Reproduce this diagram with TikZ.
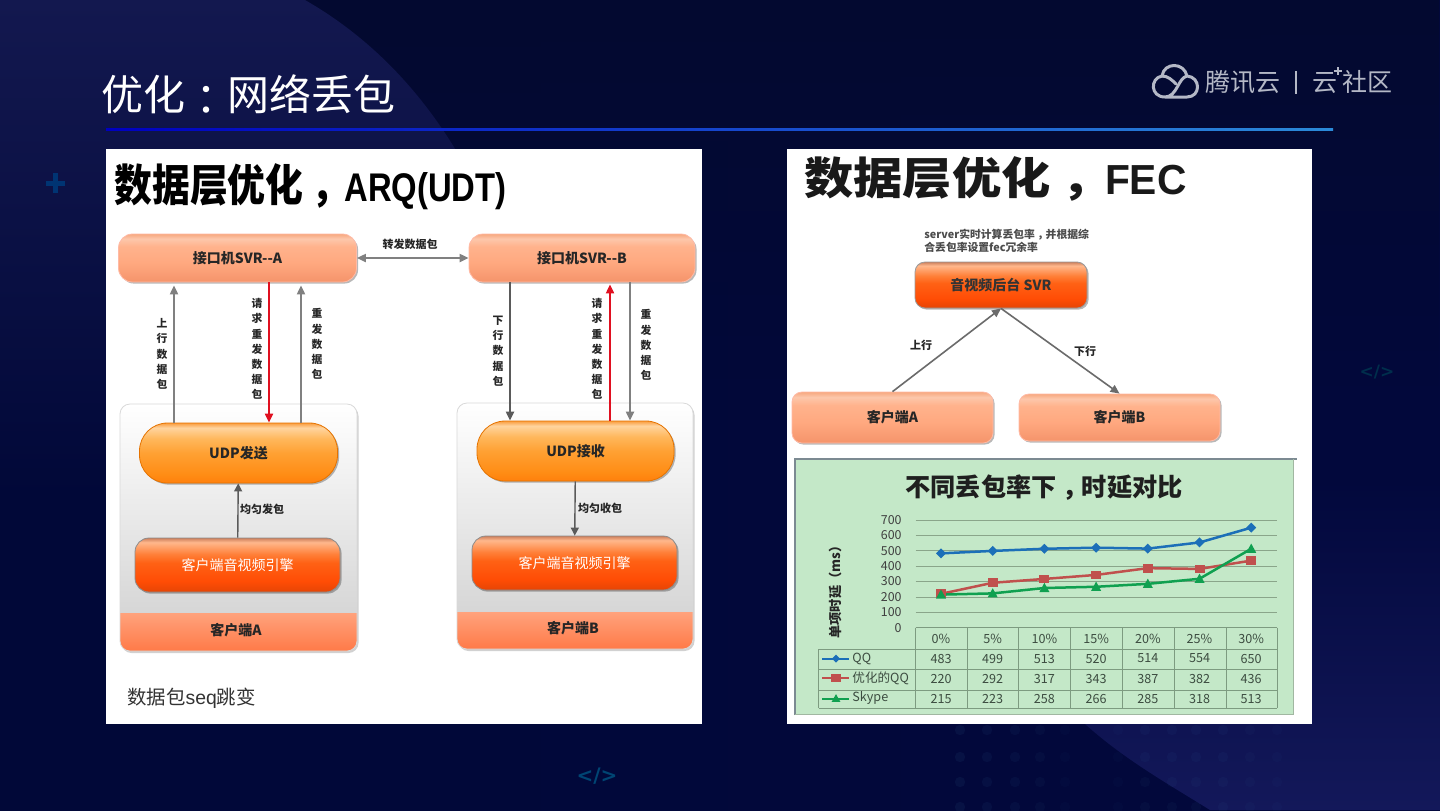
\documentclass[tikz,border=0pt]{standalone}
\usepackage{fontspec}
\usepackage{graphicx}
\setmainfont{Noto Sans CJK SC}
\newfontfamily\tcf{Noto Sans CJK TC}
\newfontfamily\lat{Liberation Sans}
\newfontfamily\djv{DejaVu Sans}
\newcommand\ccomma{\hspace{.22em}，\hspace{-.22em}}
\usetikzlibrary{arrows.meta,shadows,shapes.geometric,fadings}
\definecolor{bgtop}{HTML}{040A30}
\definecolor{bgl}{HTML}{010838}
\definecolor{bgm}{HTML}{021050}
\definecolor{bgr}{HTML}{02083C}
\definecolor{swoop}{HTML}{13184F}
\definecolor{swoopb}{HTML}{13185A}
\definecolor{logoc}{HTML}{B4B8C6}
\definecolor{chartg}{HTML}{C4E8C8}
\definecolor{gridc}{HTML}{8AA58A}
\definecolor{tabc}{HTML}{7D9B80}
\definecolor{tabtxt}{HTML}{3C4C40}
\definecolor{qqb}{HTML}{1C6FB8}
\definecolor{qqr}{HTML}{C0504D}
\definecolor{qqg}{HTML}{10A050}
\definecolor{arrg}{HTML}{808080}
\definecolor{arrd}{HTML}{5A5A5A}
\definecolor{arrr}{HTML}{E01020}
\definecolor{bandt}{HTML}{FFA27C}
\definecolor{bandb}{HTML}{FF7A48}
\pgfdeclareverticalshading{peachgloss}{100bp}{rgb(0bp)=(0.96,0.58,0.42);
  rgb(25bp)=(0.96,0.58,0.42); rgb(45bp)=(1,0.66,0.50); rgb(62bp)=(1,0.70,0.55); rgb(70bp)=(0.99,0.78,0.67); rgb(75bp)=(0.97,0.66,0.50); rgb(100bp)=(0.97,0.66,0.50)}
\pgfdeclareverticalshading{pillgloss}{100bp}{rgb(0bp)=(1,0.50,0.05);
  rgb(25bp)=(1,0.50,0.05); rgb(32bp)=(1,0.55,0.08); rgb(50bp)=(1,0.63,0.20); rgb(62bp)=(1,0.72,0.36); rgb(71bp)=(1,0.83,0.62); rgb(75bp)=(0.98,0.62,0.25); rgb(100bp)=(0.98,0.62,0.25)}
\pgfdeclareverticalshading{deepgloss}{100bp}{rgb(0bp)=(0.90,0.27,0.02);
  rgb(25bp)=(0.90,0.27,0.02); rgb(35bp)=(1,0.30,0.02); rgb(52bp)=(1,0.38,0.08); rgb(60bp)=(1,0.50,0.22); rgb(71bp)=(1,0.72,0.55); rgb(75bp)=(0.80,0.50,0.36); rgb(100bp)=(0.80,0.50,0.36)}
\tikzset{
  boxbase/.style={inner sep=0pt,align=center,drop shadow={shadow xshift=0.8pt,shadow yshift=-0.8pt,fill=black,opacity=.28}},
  peachbox/.style={boxbase,rounded corners=7pt,shading=peachgloss,draw=orange!45!red!35!white,line width=.4pt,font=\fontsize{7}{8}\selectfont\bfseries,text=black!85},
  pillbox/.style={boxbase,rounded corners=14pt,shading=pillgloss,draw=orange!90!black,line width=.4pt,font=\fontsize{7}{8}\selectfont\bfseries,text=black!85},
  deepbox/.style={boxbase,rounded corners=7pt,shading=deepgloss,draw=black!45,line width=.4pt,font=\fontsize{7}{8}\selectfont,text=white},
  svrbox/.style={boxbase,rounded corners=5pt,shading=deepgloss,draw=black!40,line width=.4pt,font=\fontsize{7}{8}\selectfont\bfseries,text=black!80},
  lab/.style={inner sep=0pt,font=\fontsize{5.5}{7}\selectfont\bfseries,text=black!85},
  vlab/.style={inner sep=0pt,align=center,font=\fontsize{5.4}{7.6}\selectfont\bfseries,text=black!85},
  garrow/.style={line width=1pt,arrg,-{Triangle[length=4.5pt,width=4pt]}},
  darrow/.style={line width=1pt,arrd,-{Triangle[length=4.5pt,width=4pt]}},
  rarrow/.style={line width=1pt,arrr,-{Triangle[length=4.5pt,width=4pt]}},
  tabline/.style={tabc,line width=.35pt},
  gridline/.style={gridc,line width=.4pt},
  tabnum/.style={inner sep=0pt,font=\fontsize{6.3}{7}\selectfont,text=tabtxt},
  axnum/.style={inner sep=0pt,anchor=east,font=\fontsize{6.2}{7}\selectfont,text=black!75},
  deco/.style={inner sep=0pt,font=\djv\bfseries\fontsize{10}{12}\selectfont},
  logotxt/.style={inner sep=0pt,text=logoc,font=\fontsize{12.5}{15}\selectfont},
}
\begin{document}
\begin{tikzpicture}[x=0.5pt,y=-0.5pt]
\useasboundingbox (0,0) rectangle (1440,810);
% background
\shade[left color=bgl,middle color=bgm,right color=bgr] (0,0) rectangle (1440,810);
\fill[bgtop,path fading=south] (0,0) rectangle (1440,420);
\shade[top color=swoop,bottom color=bgl] (0,0) -- (305,0) .. controls (375,40) and (430,100) .. (470,175) -- (470,500) -- (0,500) -- cycle;
\shade[top color=bgr,bottom color=swoopb] (1085,724) -- (1085,480) -- (1440,480) -- (1440,810) -- (1210,810) .. controls (1170,785) and (1125,760) .. (1085,724) -- cycle;
\foreach \yy in {730,757,782,807} \foreach \xx/\op in {960/.05,987/.045,1015/.04,1040/.03,1065/.02,1118/.02,1145/.03,1172/.03,1196/.03,1223/.03,1250/.025,1277/.02}
  \fill[cyan!60!white,opacity=\op] (\xx,\yy) circle (2.6pt);
% decorations
\fill[blue!55!cyan!45!black] (46,181) rectangle (65,186);
\fill[blue!55!cyan!45!black] (53,173) rectangle (58,193);
\node[deco,text=blue!40!cyan!45!black] (decoA) at (597,776) {</>};
\node[deco,text=blue!40!cyan!30!black,font=\djv\bfseries\fontsize{8.5}{10}\selectfont] (decoB) at (1377,372) {</>};
% title & rule
\node[inner sep=0pt,anchor=west,text=white,font=\fontsize{21}{24}\selectfont] (maintitle) at (101,95) {优化\raisebox{-.1em}{\tcf ：}网络丢包};
\shade[left color=blue!75!black,right color=cyan!55!blue!80!white!85!black] (106,128) rectangle (1333,130.5);
% logo
\draw[logoc,line width=1.5pt,line cap=round,line join=round] (1165,97) -- (1187,97) .. controls (1201,97) and (1201,77) .. (1187,76) .. controls (1184,62) and (1164,62) .. (1162,76) .. controls (1150,78) and (1150,97) .. (1165,97) .. controls (1177,97) and (1178,78) .. (1187,76);
\draw[logoc,line width=1.5pt,line cap=round] (1162,76) .. controls (1168,76) and (1172,80) .. (1176,84);
\node[logotxt,anchor=west] (logoA) at (1205,82) {腾讯云};
\draw[logoc,line width=.6pt] (1296,71) -- (1296,94);
\node[logotxt,anchor=west] (logoB) at (1312,83) {云};
\draw[logoc,line width=.7pt] (1334,71) -- (1342,71) (1338,67) -- (1338,75);
\node[logotxt,anchor=west] (logoC) at (1342,82) {社区};
% panels
\fill[white] (106,149) rectangle (702,724);
\fill[white] (787,149) rectangle (1312,724);
% left panel
\node[inner sep=0pt,anchor=west,font=\fontsize{22}{24}\selectfont\bfseries,text=black] (titleL) at (114,187) {\scalebox{.86}[1]{数据层优化\ccomma}\hspace{1.5pt}\scalebox{.82}[1]{\lat\bfseries\fontsize{20}{24}\selectfont ARQ(UDT)}};
\node[peachbox,minimum width=119pt,minimum height=24pt] (svrA) at (237.5,258) {接口机SVR{-}{-}A};
\node[peachbox,minimum width=113pt,minimum height=24pt] (svrB) at (582,258) {接口机SVR{-}{-}B};
\draw[line width=1pt,arrg,{Triangle[length=4.5pt,width=4pt]}-{Triangle[length=4.5pt,width=4pt]}] (svrA) -- (svrB);
\node[lab] (fwd) at (410,244) {转发数据包};
% client groups
\foreach \gname/\xa/\xb/\ya/\yb/\yc in {A/120/357/404/613/651,B/457/693/403/612/649}{
  \fill[black,opacity=.18] (\xa+1.5,\ya+2) [rounded corners=5pt] rectangle (\xb+1.5,\yc+2);
  \begin{scope}
    \clip[rounded corners=5pt] (\xa,\ya) rectangle (\xb,\yc);
    \shade[top color=white,bottom color=black!16] (\xa,\ya) rectangle (\xb,\yb);
    \shade[top color=bandt,bottom color=bandb] (\xa,\yb) rectangle (\xb,\yc);
  \end{scope}
  \draw[black!15,line width=.4pt,rounded corners=5pt] (\xa,\ya) rectangle (\xb,\yc);
}
\node[lab,font=\fontsize{7}{8}\selectfont\bfseries] (bandA) at (236,630) {客户端A};
\node[lab,font=\fontsize{7}{8}\selectfont\bfseries] (bandB) at (573,628) {客户端B};
\node[pillbox,minimum width=99pt,minimum height=30pt] (udpA) at (238.5,453) {UDP发送};
\node[pillbox,minimum width=98.5pt,minimum height=30pt] (udpB) at (575.5,451) {UDP接收};
\node[deepbox,minimum width=102.5pt,minimum height=27pt] (engA) at (237.5,565) {客户端音视频引擎};
\node[deepbox,minimum width=102.5pt,minimum height=27pt] (engB) at (574.5,563) {客户端音视频引擎};
\draw[line width=.7pt,arrd,-{Triangle[length=4pt,width=4pt]}] (engA) -- (udpA);
\draw[line width=.7pt,arrd,-{Triangle[length=4pt,width=4pt]}] (udpB) -- (engB);
\node[lab] (evenA) at (262,509) {均匀发包};
\node[lab] (evenB) at (600,508) {均匀收包};
% vertical connectors
\coordinate (xa1) at (174,0); \coordinate (xa2) at (269,0); \coordinate (xa3) at (301,0);
\coordinate (xb1) at (510,0); \coordinate (xb2) at (610,0); \coordinate (xb3) at (630,0);
\draw[garrow,shorten >=1.5pt] (udpA.north -| xa1) -- (svrA.south -| xa1);
\draw[rarrow] (svrA.south -| xa2) -- (udpA.north -| xa2);
\draw[garrow,shorten >=1.5pt] (udpA.north -| xa3) -- (svrA.south -| xa3);
\draw[darrow] (svrB.south -| xb1) -- (udpB.north -| xb1);
\draw[rarrow,shorten >=1pt] (udpB.north -| xb2) -- (svrB.south -| xb2);
\draw[garrow] (svrB.south -| xb3) -- (udpB.north -| xb3);
\node[vlab] (l1) at (162,354) {上\\行\\数\\据\\包};
\node[vlab] (l2) at (257,349) {请\\求\\重\\发\\数\\据\\包};
\node[vlab] (l3) at (317,344) {重\\发\\数\\据\\包};
\node[vlab] (l4) at (498,351) {下\\行\\数\\据\\包};
\node[vlab] (l5) at (597,349) {请\\求\\重\\发\\数\\据\\包};
\node[vlab] (l6) at (646,345) {重\\发\\数\\据\\包};
\node[inner sep=0pt,anchor=west,font=\fontsize{9.7}{12}\selectfont,text=black!80] (seq) at (127,698) {数据包{\lat seq}跳变};
% right panel
\node[inner sep=0pt,anchor=west,font=\fontsize{22}{24}\selectfont\bfseries,text=black!90] (titleR) at (804,179) {\scalebox{1.12}[1]{数据层优化\ccomma}\hspace{2.5pt}\scalebox{.97}[1]{\lat\bfseries\fontsize{21}{24}\selectfont FEC}};
\node[inner sep=0pt,align=left,anchor=west,font=\fontsize{5.4}{6.6}\selectfont\bfseries,text=black!70] (note) at (924,240.5) {server实时计算丢包率\ccomma 并根据综\\合丢包率设置fec冗余率};
\node[svrbox,minimum width=86pt,minimum height=23pt] (svr) at (1001,285) {音视频后台 SVR};
\node[peachbox,rounded corners=5pt,minimum width=100.5pt,minimum height=25.5pt] (cliA) at (892.5,417.5) {客户端A};
\node[peachbox,rounded corners=5pt,minimum width=100.5pt,minimum height=23.5pt] (cliB) at (1119.5,417.5) {客户端B};
\draw[line width=.8pt,arrd!90,-{Triangle[length=4.5pt,width=4pt]}] (cliA.north) -- (svr.south);
\draw[line width=.8pt,arrd!90,-{Triangle[length=4.5pt,width=4pt]}] (svr.south) -- (cliB.north);
\node[lab] (up) at (921,345) {上行};
\node[lab] (down) at (1085,351) {下行};
% chart
\fill[chartg] (795,459) rectangle (1293,715);
\draw[black!45!cyan!30!gray,line width=.6pt] (795,715) -- (795,459) -- (1297,459);
\draw[gridc!80!white,line width=.5pt] (795,714.5) -- (1293,714.5) -- (1293,459);
\node[inner sep=0pt,font=\fontsize{12.6}{15}\selectfont\bfseries,text=black!88] (ctitle) at (1044,488) {不同丢包率下\ccomma 时延对比};
\foreach \v in {0,100,...,700}{
  \draw[gridline] (915.5,{627.7-\v*0.1539}) -- (1277,{627.7-\v*0.1539});
  \node[axnum] (ax\v) at (902,{627.7-\v*0.1539}) {\v};
}
\node[inner sep=0pt,rotate=90,font=\fontsize{6.6}{8}\selectfont\bfseries,text=black!85] (ytitle) at (835,589) {单项时延{\tcf （}ms{\tcf ）}};
% table
\foreach \yy in {627.7,649,669,690,708} \draw[tabline] (915.5,\yy) -- (1277,\yy);
\foreach \yy in {649,669,690,708} \draw[tabline] (818.5,\yy) -- (915.5,\yy);
\draw[tabline] (818.5,649) -- (818.5,708);
\foreach \xx in {915.5,967,1018.5,1070,1122,1174,1226,1277} \draw[tabline] (\xx,627.7) -- (\xx,708);
\foreach \i/\c in {0/0\%,1/5\%,2/10\%,3/15\%,4/20\%,5/25\%,6/30\%}{
  \node[tabnum] (c\i) at ({941+51.7*\i},638.5) {\c};
}
\foreach \i/\a/\b/\c in {0/483/220/215,1/499/292/223,2/513/317/258,3/520/343/266,4/514/387/285,5/554/382/318,6/650/436/513}{
  \node[tabnum] (ta\i) at ({941+51.7*\i},658.5) {\a};
  \node[tabnum] (tb\i) at ({941+51.7*\i},679) {\b};
  \node[tabnum] (tc\i) at ({941+51.7*\i},699) {\c};
  \coordinate (pa\i) at ({941+51.7*\i},{627.7-\a*0.1539});
  \coordinate (pb\i) at ({941+51.7*\i},{627.7-\b*0.1539});
  \coordinate (pc\i) at ({941+51.7*\i},{627.7-\c*0.1539});
}
\draw[qqr,line width=1.25pt] (pb0)--(pb1)--(pb2)--(pb3)--(pb4)--(pb5)--(pb6);
\draw[qqb,line width=1.25pt] (pa0)--(pa1)--(pa2)--(pa3)--(pa4)--(pa5)--(pa6);
\draw[qqg,line width=1.25pt] (pc0)--(pc1)--(pc2)--(pc3)--(pc4)--(pc5)--(pc6);
\foreach \i in {0,...,6}{
  \fill[qqr] ([xshift=-2.5pt,yshift=-2.2pt]pb\i) rectangle ([xshift=2.5pt,yshift=2.2pt]pb\i);
  \fill[qqb] ([xshift=-2.5pt]pa\i) -- ([yshift=2.5pt]pa\i) -- ([xshift=2.5pt]pa\i) -- ([yshift=-2.5pt]pa\i) -- cycle;
  \fill[qqg] ([xshift=-2.5pt,yshift=-2pt]pc\i) -- ([yshift=2.6pt]pc\i) -- ([xshift=2.5pt,yshift=-2pt]pc\i) -- cycle;
}
% legend
\coordinate (la) at (836,658.5); \coordinate (lb) at (836,677.5); \coordinate (lc) at (836,698.5);
\draw[qqb,line width=1pt] (822,658.5) -- (849,658.5);
\fill[qqb] ([xshift=-2pt]la) -- ([yshift=2pt]la) -- ([xshift=2pt]la) -- ([yshift=-2pt]la) -- cycle;
\draw[qqr,line width=1pt] (822,677.5) -- (849,677.5);
\fill[qqr] ([xshift=-2.4pt,yshift=-2pt]lb) rectangle ([xshift=2.4pt,yshift=2pt]lb);
\draw[qqg,line width=1pt] (822,698.5) -- (849,698.5);
\fill[qqg] ([xshift=-2.2pt,yshift=-1.7pt]lc) -- ([yshift=2.2pt]lc) -- ([xshift=2.2pt,yshift=-1.7pt]lc) -- cycle;
\node[tabnum,anchor=west] (lega) at (852,658.5) {QQ};
\node[tabnum,anchor=west] (legb) at (852,678) {优化的QQ};
\node[tabnum,anchor=west] (legc) at (852,698) {Skype};
\end{tikzpicture}
\end{document}
